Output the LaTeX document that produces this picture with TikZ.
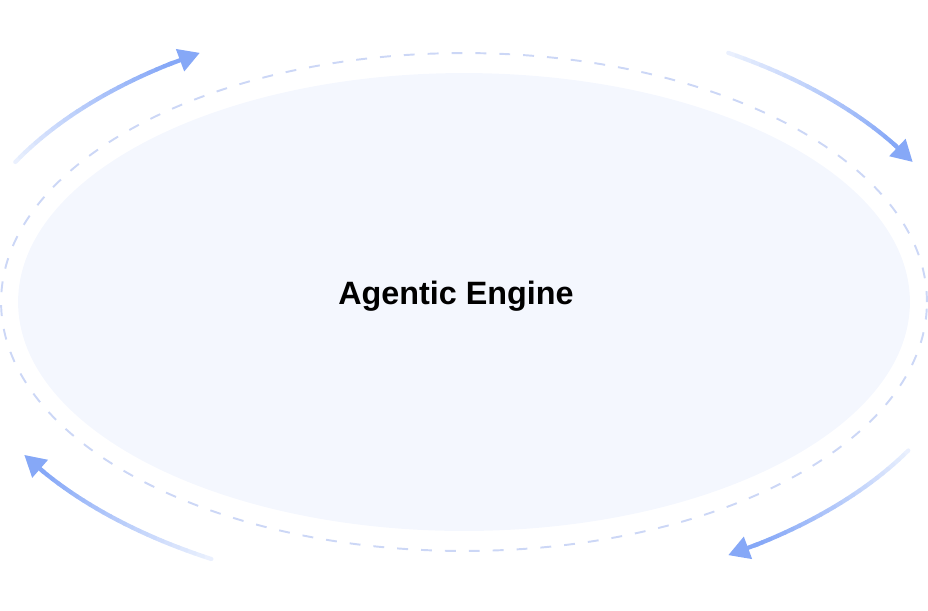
\documentclass[tikz,border=0pt]{standalone}
\usepackage{fontspec}
\setmainfont{Liberation Sans}
\usetikzlibrary{shapes.geometric,arrows.meta}
\definecolor{corefill}{HTML}{F4F7FE}
\definecolor{ringline}{HTML}{CCD7F6}
\definecolor{flowtip}{HTML}{86A8F7}
\definecolor{flowfade}{HTML}{EEF3FE}

\begin{document}
\begin{tikzpicture}[x=0.02cm,y=-0.02cm]
	\tikzstyle{core} = [ellipse, minimum width=17.84cm, minimum height=9.16cm, inner sep=0, fill=corefill]
	\tikzstyle{ring} = [ellipse, minimum width=18.52cm, minimum height=9.96cm, inner sep=0, draw=ringline, line width=1.1pt, dash pattern=on 6.2pt off 7.4pt]
	\tikzstyle{flow} = [line width=2.4pt, line cap=round]
	\tikzstyle{tip} = [line width=2.4pt, -{Triangle[length=12pt,width=13pt]}, flowtip]

	\useasboundingbox (0,0) rectangle (928,610);
	\node (ring) [ring] at (464,302) {};
	\node (core) [core] at (464,302) {};
	\node (label) at (456,296) {\fontsize{18.4}{22}\selectfont\bfseries Agentic Engine};

	% four arcs round the engine, clockwise
	\foreach \s/\t in {151/121, 59/29, -30/-59, -119.5/-149} {
		\foreach \i in {1,...,24} {
			\pgfmathsetmacro{\a}{\s+(\t-\s)*0.88*(\i-1)/24}
			\pgfmathsetmacro{\b}{\s+(\t-\s)*0.88*\i/24}
			\pgfmathsetmacro{\p}{100*\i/24}
			\draw[flow, flowtip!\p!flowfade] ({464+513*cos(\a)},{304-293*sin(\a)}) -- ({464+513*cos(\b)},{304-293*sin(\b)});
		}
		\pgfmathsetmacro{\c}{\s+(\t-\s)*0.86}
		\draw[tip] ({464+513*cos(\c)},{304-293*sin(\c)}) -- ({464+513*cos(\t)},{304-293*sin(\t)});
	}
\end{tikzpicture}
\end{document}
